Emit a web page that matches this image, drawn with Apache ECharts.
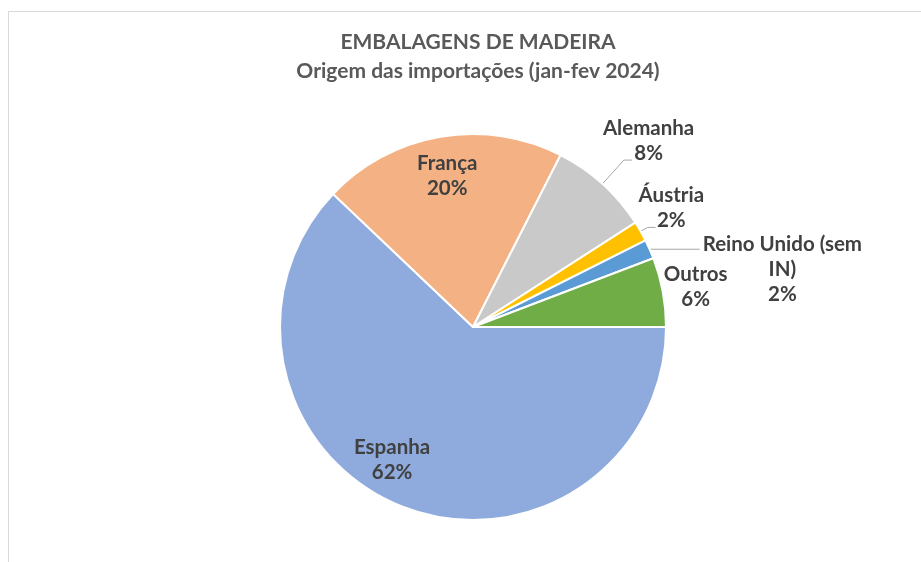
<!DOCTYPE html>
<html>
<head>
<meta charset="utf-8">
<script src="https://cdn.jsdelivr.net/npm/echarts@6/dist/echarts.min.js"></script>
<style>
  html, body { margin: 0; padding: 0; background: #fff; }
  #frame { position: absolute; left: 8px; top: 11px; width: 940px; height: 580px; border: 1px solid #d9d9d9; box-sizing: border-box; }
  #chart { width: 921px; height: 562px; }
</style>
</head>
<body>
<div id="frame"></div>
<div id="chart"></div>
<script>
const countries = ['Espanha', 'França', 'Alemanha', 'Áustria', 'Reino Unido (sem\nIN)', 'Outros'];
const shares = [62.1, 20.4, 8.4, 1.7, 1.6, 5.8];
const colors = ['#8FAADC', '#F4B183', '#C9C9C9', '#FFC000', '#5B9BD5', '#70AD47'];

// label tweaks so they sit where Excel put them
const labelShift = [
  { dx: -44, dy: 40 },
  { dx: -9, dy: -53 },
  { dx: -33, dy: -19 },
  { dx: -21, dy: -20 },
  { dx: -1, dy: 20 },
  { dx: -3, dy: -5 }
];

const chart = echarts.init(document.getElementById('chart'));

const data = countries.map((name, i) => {
  const item = { name: name, value: shares[i], itemStyle: { color: colors[i] } };
  if (i < 2) {
    item.label = { position: 'inside' };
  }
  return item;
});
data[2].labelLine = { length: 32, length2: 8 };
data[3].labelLine = { length: 8, length2: 8 };
data[4].labelLine = { length: 0, length2: 50 };
data[5].labelLine = { show: false, length: 0, length2: 0 };

chart.setOption({
  animation: false,
  title: {
    text: 'EMBALAGENS DE MADEIRA\nOrigem das importações (jan-fev 2024)',
    left: 473,
    textAlign: 'center',
    top: 23,
    textStyle: {
      fontFamily: 'Lato',
      fontSize: 21,
      fontWeight: 'bold',
      color: '#595959',
      lineHeight: 29
    }
  },
  series: [
    {
      type: 'pie',
      center: [473, 327],
      radius: 193,
      startAngle: 0,
      clockwise: true,
      percentPrecision: 1,
      avoidLabelOverlap: false,
      itemStyle: {
        borderColor: '#fff',
        borderWidth: 2
      },
      label: {
        show: true,
        position: 'outside',
        distanceToLabelLine: 4,
        formatter: p => p.name.split('\n').map(s => '{c|' + s + '}').join('\n') + '\n{c|' + Math.round(p.percent) + '%}',
        rich: {
          c: {
            align: 'center',
            fontFamily: 'Lato',
            fontSize: 20.5,
            fontWeight: 'bold',
            color: '#404040',
            lineHeight: 25
          }
        }
      },
      labelLine: {
        show: true,
        lineStyle: { color: '#a6a6a6', width: 1 }
      },
      labelLayout: p => labelShift[p.dataIndex],
      data: data
    }
  ]
});
</script>
</body>
</html>
